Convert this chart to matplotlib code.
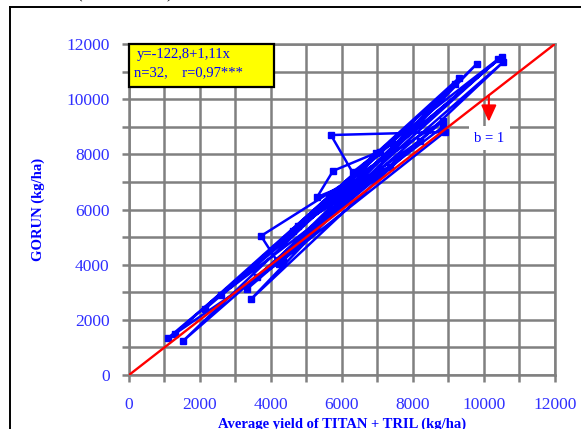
import matplotlib
matplotlib.use("Agg")
import matplotlib.pyplot as plt
from matplotlib.patches import Rectangle
from matplotlib.lines import Line2D

plt.rcParams['font.family'] = ['Liberation Serif', 'DejaVu Serif']

# average yield TITAN + TRIL (x) vs GORUN (y), in plotting order
titan_tril = [1100, 10500, 2150, 9300, 1520, 10550, 3440, 9800, 3320, 8850,
              3720, 4230, 9180, 1300, 4340, 8900, 5690, 6300, 10400, 3600,
              8200, 4620, 7400, 4760, 7350, 5300, 5750, 6960, 5630, 7070,
              2600, 8850]
gorun = [1340, 11530, 2400, 10770, 1230, 11350, 2750, 11280, 3110, 9210,
         5040, 4020, 10550, 1500, 4170, 8810, 8700, 7350, 11450, 3550,
         8500, 5210, 8410, 5400, 7540, 6450, 7400, 8050, 6450, 8090,
         2900, 9000]

eq_text = "y=-122,8+1,11x"
stat_text = "n=32,    r=0,97***"
ticks = list(range(0, 12001, 1000))
tick_labels = [str(t) if t % 2000 == 0 else "" for t in ticks]

grey = "#808080"
blue = "#0000ff"
tick_blue = "#2f2fff"

fig = plt.figure(figsize=(5.81, 4.29), dpi=100)
ax = fig.add_axes([0.222, 0.1259, 0.733, 0.7715])

ax.plot(titan_tril, gorun, color=blue, lw=1.8, marker="s", ms=5,
        markerfacecolor=blue, markeredgecolor=blue, zorder=3)
ax.plot([0, 12000], [0, 12000], color="red", lw=1.7, zorder=4)

ax.set_xlim(0, 12000)
ax.set_ylim(0, 12000)
ax.set_xticks(ticks)
ax.set_yticks(ticks)
ax.set_xticklabels(tick_labels)
ax.set_yticklabels(tick_labels)
ax.tick_params(direction="out", length=5, width=1.8, color=grey,
               labelcolor=tick_blue, labelsize=12.5)
ax.tick_params(axis="x", pad=11)
ax.tick_params(axis="y", pad=9)
ax.grid(True, color=grey, lw=1.8, zorder=0)
ax.set_axisbelow(True)
for side in ["left", "bottom", "right", "top"]:
    ax.spines[side].set_color(grey)
    ax.spines[side].set_linewidth(1.8)

ax.set_xlabel("Average yield of TITAN + TRIL (kg/ha)", color=blue,
              fontsize=10.5, fontweight="bold", labelpad=3)
ax.set_ylabel("GORUN (kg/ha)", color=blue, fontsize=10.5,
              fontweight="bold", labelpad=15)

# equation box
ax.add_patch(Rectangle((0.0, 0.87), 0.34, 0.13, transform=ax.transAxes,
                       facecolor="yellow", edgecolor="black", lw=1.6,
                       zorder=6, clip_on=False))
ax.text(0.019, 0.967, eq_text, transform=ax.transAxes, color=blue,
        fontsize=10.5, va="center", zorder=7)
ax.text(0.012, 0.912, stat_text, transform=ax.transAxes, color=blue,
        fontsize=10.5, va="center", zorder=7)

# b = 1 label with arrow
ax.text(10150, 8590, "b = 1", color=blue, fontsize=10.5, ha="center",
        va="center", zorder=6,
        bbox=dict(facecolor="white", edgecolor="none", pad=4))
ax.annotate("", xy=(10140, 9180), xytext=(10140, 10140),
            arrowprops=dict(arrowstyle="-|>,head_length=0.5,head_width=0.23",
                            color="red", lw=1.5, mutation_scale=20,
                            shrinkA=0, shrinkB=0), zorder=7)

# outer frame and cropped title parentheses
fig.add_artist(Line2D([10 / 581, 1.0], [1 - 7 / 429, 1 - 7 / 429],
                      transform=fig.transFigure, color="black", lw=1.4))
fig.add_artist(Line2D([10 / 581, 10 / 581], [0, 1 - 7 / 429],
                      transform=fig.transFigure, color="black", lw=1.4))
fig.text(76 / 581, 1 + 2 / 429, "(", fontsize=12, va="baseline")
fig.text(166 / 581, 1 + 2 / 429, ")", fontsize=12, va="baseline")

fig.savefig("out.png", dpi=100)
